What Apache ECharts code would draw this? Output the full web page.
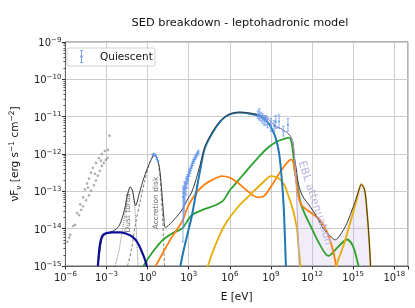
<!DOCTYPE html>
<html><head><meta charset="utf-8">
<script src="https://cdn.jsdelivr.net/npm/echarts@6/dist/echarts.min.js"></script>
<style>html,body{margin:0;padding:0;background:#fff}#c{width:415px;height:308px}</style>
</head><body><div id="c"></div>
<script>
// All values are log10 of the quantity (E in eV, nuFnu in erg s^-1 cm^-2)
// Low-energy archival points (grey dots)
const dotLogE = [-5.86,-5.72,-5.65,-5.43,-5.29,-5.14,-5.0,-4.92,-4.85,-4.71,-4.71,-4.57,-4.49,-4.42,-4.35,-4.28,-4.28,-4.13,-4.13,-3.99,-3.92,-3.85,-3.77,-3.77,-3.63,-3.56,-3.48,-3.41,-3.34,-3.34,-3.2,-3.12,-3.05,-2.91,-2.91,-2.78];
const dotLogF = [-14.35,-14.24,-14.16,-13.93,-13.90,-13.58,-13.64,-13.35,-13.50,-13.16,-13.40,-12.95,-13.24,-12.79,-12.90,-12.66,-13.11,-12.50,-12.98,-12.37,-12.84,-12.53,-12.24,-12.71,-12.58,-12.11,-12.45,-12.18,-12.0,-12.32,-12.24,-11.92,-12.16,-11.89,-12.11,-11.51];
// Quiescent data (blue error bars): log E, log F, errors (dex)
const qLogE = [0.38,0.48,0.58,0.68,0.76,
  2.58,2.63,2.68,2.74,2.80,2.86,2.92,2.98,3.04,3.10,3.16,3.22,3.28,3.34,3.40,3.47,3.54,3.62,3.70,
  8.05,8.15,8.27,8.39,8.51,8.63,8.75,8.99,9.23,9.35,9.59,9.90,10.24];
const qLogF = [-12.02,-12.0,-12.05,-12.12,-12.2,
  -13.15,-13.05,-12.95,-12.9,-12.8,-12.72,-12.65,-12.58,-12.5,-12.45,-12.38,-12.32,-12.25,-12.2,-12.15,-12.1,-12.05,-12.0,-11.95,
  -10.95,-10.94,-11.0,-11.05,-11.1,-11.1,-11.16,-11.22,-11.25,-11.14,-11.13,-11.39,-11.22];
const qErrLo = [0.02,0.02,0.02,0.02,0.02,
  1.2,0.9,0.6,0.4,0.3,0.2,0.15,0.12,0.1,0.08,0.07,0.06,0.06,0.05,0.05,0.05,0.05,0.05,0.05,
  0.1,0.15,0.12,0.13,0.13,0.13,0.14,0.17,0.15,0.17,0.18,0.13,0.17];
const qErrHi = [0.02,0.02,0.02,0.02,0.02,
  0.25,0.2,0.2,0.15,0.15,0.12,0.1,0.1,0.08,0.07,0.06,0.06,0.05,0.05,0.05,0.05,0.05,0.05,0.05,
  0.1,0.15,0.12,0.13,0.13,0.13,0.14,0.17,0.15,0.17,0.18,0.13,0.17];
// Model components
const navyLogE = [-3.63,-3.57,-3.47,-3.30,-3.0,-2.5,-2.0,-1.6,-1.1,-0.74,-0.37,-0.15,0.0];
const navyLogF = [-15.0,-14.72,-14.40,-14.19,-14.12,-14.10,-14.10,-14.13,-14.22,-14.37,-14.66,-14.88,-15.1];
const dustLogE = [-2.37,-2.1,-1.85,-1.6,-1.4,-1.25,-1.1,-0.95,-0.85,-0.75,-0.68];
const dustLogF = [-15.0,-14.6,-14.05,-13.45,-13.05,-12.9,-13.0,-13.4,-13.9,-14.6,-15.2];
const diskLogE = [-1.47,-1.2,-0.9,-0.5,-0.2,0.1,0.4,0.55,0.75,0.9,1.0,1.1,1.2,1.26];
const diskLogF = [-15.0,-14.6,-13.9,-13.2,-12.7,-12.3,-12.05,-12.02,-12.2,-12.6,-13.1,-13.8,-14.7,-15.3];
const blueLogE = [2.39,2.64,2.93,3.21,3.50,3.82,4.18,4.79,5.38,5.98,6.70,7.43,8.15,8.75,9.11,9.35,9.59,9.78,9.93,10.03,10.09];
const blueLogF = [-15.0,-14.56,-14.11,-13.69,-13.11,-12.46,-11.84,-11.40,-11.10,-10.94,-10.89,-10.92,-10.98,-11.14,-11.36,-11.58,-11.97,-12.63,-13.42,-14.35,-15.0];
const orangeLogE = [0.59,1.20,1.78,2.50,2.98,3.58,4.18,4.79,5.38,5.98,6.59,7.31,8.03,8.51,9.11,9.71,10.31,10.53,10.72,10.91,11.08,11.30,11.87,12.59,13.08,13.55,13.75];
const orangeLogF = [-15.0,-14.59,-14.22,-13.82,-13.38,-13.03,-12.81,-12.68,-12.59,-12.63,-12.77,-13.0,-13.16,-13.12,-12.81,-12.46,-12.18,-12.15,-12.42,-12.90,-13.24,-13.40,-13.56,-13.78,-14.08,-14.61,-15.0];
const greenLogE = [-0.31,0.34,1.06,1.78,2.50,3.22,4.18,4.90,5.51,5.98,6.59,7.31,8.03,8.75,9.47,10.07,10.31,10.48,10.63,10.74,10.90,11.15,11.51,11.87,12.59,13.19,13.91,14.56,15.0,15.36,15.42];
const greenLogF = [-15.0,-14.64,-14.32,-14.13,-14.0,-13.64,-13.47,-13.38,-13.25,-12.98,-12.72,-12.41,-12.11,-11.84,-11.66,-11.58,-11.56,-11.66,-12.02,-12.46,-12.77,-13.29,-13.64,-13.91,-14.44,-14.73,-14.48,-14.29,-14.48,-14.96,-15.1];
const yellowLogE = [4.34,4.43,4.90,5.62,6.59,7.55,8.39,8.99,9.47,9.95,10.31,10.43,10.65,10.91,11.03,11.15,11.25,12.4,13.6,13.80,14.27,14.76,15.24,15.60,15.84,16.0,16.15,16.27,16.35];
const yellowLogF = [-15.14,-14.96,-14.48,-13.91,-13.42,-13.07,-12.77,-12.59,-12.63,-12.81,-13.16,-13.29,-13.56,-14.04,-14.57,-15.0,-15.5,-17.0,-15.5,-14.96,-14.48,-13.87,-13.25,-12.81,-12.98,-13.51,-14.22,-15.0,-15.6];
const totalLogE = [-3.62,-3.48,-3.34,-3.12,-2.78,-2.40,-2.06,-1.70,-1.46,-1.27,-1.11,-0.87,-0.62,-0.26,0.10,0.50,0.82,1.01,1.18,1.30,1.78,2.50,2.93,3.22,3.50,3.82,4.18,4.79,5.38,5.98,6.70,7.43,8.15,8.75,9.11,9.42,9.78,10.07,10.31,10.47,10.60,10.72,10.86,11.01,11.30,11.87,12.36,12.83,13.08,13.39,13.69,14.05,14.52,15.00,15.36,15.60,15.84,16.00,16.15,16.27,16.35];
const totalLogF = [-15.0,-14.61,-14.29,-14.15,-14.10,-14.04,-13.91,-13.51,-13.07,-12.88,-12.98,-13.38,-13.07,-12.63,-12.28,-12.02,-12.28,-12.90,-13.69,-13.97,-13.82,-13.50,-13.20,-13.02,-12.72,-12.30,-11.80,-11.37,-11.08,-10.93,-10.88,-10.90,-10.95,-11.05,-11.18,-11.27,-11.33,-11.40,-11.47,-11.55,-11.68,-12.10,-12.43,-12.81,-13.12,-13.41,-13.69,-14.0,-14.10,-14.22,-14.30,-14.17,-13.87,-13.42,-13.03,-12.81,-12.97,-13.50,-14.22,-15.0,-15.6];
const absLogE = [8.15,8.75,9.11,9.42,9.78,10.07,10.31,10.47,10.6,10.7,10.78,10.86,10.94,11.02,11.08];
const absLogF = [-10.95,-11.05,-11.18,-11.27,-11.33,-11.40,-11.47,-11.55,-11.70,-12.0,-12.4,-13.0,-13.8,-14.6,-15.3];
const eblStartLogE = 10.78;

const FONT = 'DejaVu Sans';
const P = v => Math.pow(10, v);
const pts = (E, F) => E.map((e, i) => [P(e), P(F[i])]);

function sup(e){ return (e < 0 ? '\u2212' + (-e) : '' + e); }
const tickRich = {
  b: {fontFamily: FONT, fontSize: 10, color: '#222', verticalAlign: 'bottom', lineHeight: 13},
  s: {fontFamily: FONT, fontSize: 7, color: '#222', verticalAlign: 'bottom', lineHeight: 13, padding: [0, 0, 5, 0]}
};
const minorY = [];
for (let k = -15; k < -9; k++) for (let m = 2; m <= 9; m++) minorY.push(m * Math.pow(10, k));

function line(name, E, F, color, width, type, z) {
  return {name, type: 'line', data: pts(E, F), showSymbol: false, symbol: 'none', smooth: 0.3,
    clip: true, z: z || 2, lineStyle: {color, width, type: type || 'solid'}, silent: true};
}

const qColor = 'rgba(100,149,237,0.85)';
const option = {
  animation: false,
  title: {text: 'SED breakdown - leptohadronic model', left: 235, top: 13, textAlign: 'center',
    textStyle: {fontFamily: FONT, fontSize: 11.3, fontWeight: 'normal', color: '#111'}},
  grid: {left: 62, right: 7, top: 42, bottom: 38, show: true, borderColor: '#666', borderWidth: 1, containLabel: false},
  xAxis: [{type: 'log', logBase: 10, min: 1e-6, max: 1e19, interval: 3,
    name: 'E [eV]', nameLocation: 'middle', nameGap: 26,
    nameTextStyle: {fontFamily: FONT, fontSize: 10.5, color: '#111'},
    axisLine: {show: true, lineStyle: {color: '#666'}},
    axisTick: {show: true, length: 3.5, lineStyle: {color: '#333'}},
    axisLabel: {margin: 4, rich: tickRich, formatter: v => {
      const e = Math.round(Math.log10(v)); if (e % 3 !== 0 || e > 18) return '';
      return '{b|10}{s|' + sup(e) + '}'; }},
    splitLine: {show: true, lineStyle: {color: '#cccccc', width: 1}}}],
  yAxis: [{type: 'log', logBase: 10, min: 1e-15, max: 1e-9, interval: 1,
    name: '{b|\u03BDF}{sub|\u03BD}{b| [erg s}{sp|\u22121}{b| cm}{sp|\u22122}{b|]}',
    nameLocation: 'middle', nameGap: 44, nameRotate: 90,
    nameTextStyle: {fontFamily: FONT, fontSize: 10.5, color: '#111', rich: {
      b: {fontFamily: FONT, fontSize: 10.5, color: '#111', verticalAlign: 'bottom', lineHeight: 14},
      sub: {fontFamily: FONT, fontSize: 7.5, color: '#111', verticalAlign: 'bottom', lineHeight: 14, padding: [0, 0, -2, 0]},
      sp: {fontFamily: FONT, fontSize: 7.5, color: '#111', verticalAlign: 'bottom', lineHeight: 14, padding: [0, 0, 5, 0]}}},
    axisLine: {show: true, lineStyle: {color: '#666'}},
    axisTick: {show: true, length: 3.5, lineStyle: {color: '#333'}},
    axisLabel: {margin: 4, rich: tickRich, formatter: v => {
      const e = Math.round(Math.log10(v)); return '{b|10}{s|' + sup(e) + '}'; }},
    splitLine: {show: true, lineStyle: {color: '#cccccc', width: 1}}},
   {type: 'log', logBase: 10, min: 1e-15, max: 1e-9, position: 'left',
    axisLine: {show: false}, axisLabel: {show: false}, splitLine: {show: false},
    axisTick: {show: true, length: 2, customValues: minorY, lineStyle: {color: '#333', width: 0.8}}}],
  graphic: [
    {type: 'rect', shape: {x: 67, y: 48, width: 88, height: 18, r: 2}, style: {fill: 'rgba(255,255,255,0.85)', stroke: '#d0d0d0', lineWidth: 1}, z: 100},
    {type: 'line', shape: {x1: 81.5, y1: 50.5, x2: 81.5, y2: 62.5}, style: {stroke: qColor, lineWidth: 1}, z: 101},
    {type: 'line', shape: {x1: 80, y1: 50.5, x2: 83, y2: 50.5}, style: {stroke: qColor, lineWidth: 1}, z: 101},
    {type: 'line', shape: {x1: 80, y1: 62.5, x2: 83, y2: 62.5}, style: {stroke: qColor, lineWidth: 1}, z: 101},
    {type: 'circle', shape: {cx: 81.5, cy: 56.5, r: 1.3}, style: {fill: qColor}, z: 101},
    {type: 'text', x: 100, y: 57, z: 101, style: {text: 'Quiescent', font: '10.5px "DejaVu Sans"', fill: '#111', textVerticalAlign: 'middle'}},
    {type: 'text', x: 128.5, y: 213, rotation: Math.PI / 2, z: 50, style: {text: 'Dust torus', font: '7.5px "DejaVu Sans"', fill: '#666', textAlign: 'center', textVerticalAlign: 'middle'}},
    {type: 'text', x: 156, y: 203, rotation: Math.PI / 2, z: 50, style: {text: 'Accretion disk', font: '7.5px "DejaVu Sans"', fill: '#666', textAlign: 'center', textVerticalAlign: 'middle'}},
    {type: 'text', x: 315, y: 203, rotation: -1.25, z: 50, style: {text: 'EBL attenuation', font: '11px "DejaVu Sans"', fill: '#bcaee0', textAlign: 'center', textVerticalAlign: 'middle'}}
  ],
  series: [
    {name: 'EBL', type: 'custom', data: [[P(eblStartLogE), P(-12)]], clip: true, z: 1, silent: true,
      renderItem: (params, api) => {
        const poly = [];
        totalLogE.forEach((e, i) => { if (e >= eblStartLogE) poly.push(api.coord([P(e), P(totalLogF[i])])); });
        for (let i = absLogE.length - 1; i >= 0; i--) if (absLogE[i] >= eblStartLogE) poly.push(api.coord([P(absLogE[i]), P(absLogF[i])]));
        return {type: 'polygon', shape: {points: poly, smooth: 0}, style: {fill: 'rgba(186,170,222,0.22)'}};
      }},
    {name: 'archival', type: 'scatter', data: pts(dotLogE, dotLogF), symbol: 'circle', symbolSize: 2.2, z: 2,
      itemStyle: {color: '#a0a0a0', borderColor: '#8a8a8a', borderWidth: 0.4}, silent: true},
    line('dust', dustLogE, dustLogF, '#808080', 1, 'dotted', 2),
    line('disk', diskLogE, diskLogF, '#808080', 1, [3, 2], 2),
    line('green', greenLogE, greenLogF, '#2ca02c', 1.8, 'solid', 3),
    line('orange', orangeLogE, orangeLogF, '#ff7f0e', 1.8, 'solid', 3),
    line('yellow', yellowLogE, yellowLogF, '#e6ad07', 1.8, 'solid', 3),
    line('blue', blueLogE, blueLogF, '#1f77b4', 2, 'solid', 3),
    line('total', totalLogE, totalLogF, '#3a3a3a', 1, 'solid', 4),
    line('absorbed', absLogE, absLogF, '#b7a3db', 1, 'solid', 4),
    line('navy', navyLogE, navyLogF, '#0c0c99', 2.2, 'solid', 5),
    {name: 'Quiescent', type: 'custom', z: 6, clip: true, silent: true,
      data: qLogE.map((e, i) => [P(e), P(qLogF[i]), P(qLogF[i] - qErrLo[i]), P(qLogF[i] + qErrHi[i])]),
      encode: {x: 0, y: [1, 2, 3]},
      renderItem: (params, api) => {
        const p = api.coord([api.value(0), api.value(1)]);
        const lo = api.coord([api.value(0), api.value(2)]);
        const hi = api.coord([api.value(0), api.value(3)]);
        const st = {stroke: qColor, lineWidth: 0.9};
        return {type: 'group', children: [
          {type: 'line', shape: {x1: p[0], y1: lo[1], x2: p[0], y2: hi[1]}, style: st},
          {type: 'line', shape: {x1: p[0] - 1.3, y1: lo[1], x2: p[0] + 1.3, y2: lo[1]}, style: st},
          {type: 'line', shape: {x1: p[0] - 1.3, y1: hi[1], x2: p[0] + 1.3, y2: hi[1]}, style: st},
          {type: 'circle', shape: {cx: p[0], cy: p[1], r: 1.1}, style: {fill: qColor}}
        ]};
      }}
  ]
};
const chart = echarts.init(document.getElementById('c'));
chart.setOption(option);
</script></body></html>
